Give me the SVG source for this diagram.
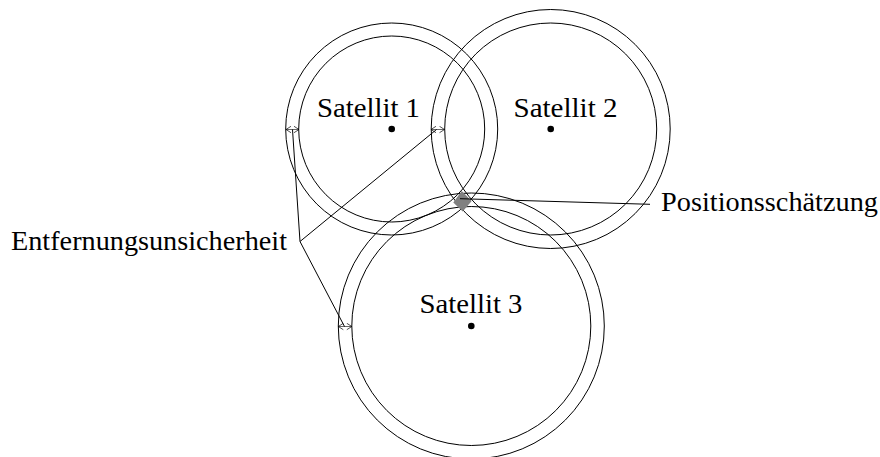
<svg xmlns="http://www.w3.org/2000/svg" width="880" height="457" viewBox="0 0 880 457">
  <style>
    .ring { fill: none; stroke: #000; stroke-width: 1; }
    .lead { fill: none; stroke: #000; stroke-width: 1; }
    .gap { fill: none; stroke: #000; stroke-width: 0.6; marker-start: url(#tip); marker-end: url(#tip); }
    .dot { fill: #000; }
    .lbl { font-family: "Liberation Serif", "DejaVu Serif", serif; font-size: 27px; fill: #000; }
  </style>
  <defs>
    <marker id="tip" viewBox="0 0 8 8" refX="7.5" refY="4" markerWidth="8" markerHeight="8" markerUnits="userSpaceOnUse" orient="auto-start-reverse">
      <path d="M2.5,0.8 L7.5,4 L2.5,7.2" fill="none" stroke="#000" stroke-width="0.7"/>
    </marker>
  </defs>

  <rect width="880" height="457" fill="#fff"/>

  <!-- satellites: inner/outer range circles, centre point and name -->
  <g id="satellit1">
    <circle class="ring" cx="391.7" cy="129" r="93"/>
    <circle class="ring" cx="391.7" cy="129" r="106"/>
    <circle class="dot" cx="391.7" cy="129" r="3.3"/>
    <text class="lbl" x="317" y="116.5" textLength="103" lengthAdjust="spacingAndGlyphs">Satellit 1</text>
  </g>
  <g id="satellit2">
    <circle class="ring" cx="550.7" cy="129" r="106"/>
    <circle class="ring" cx="550.7" cy="129" r="119.5"/>
    <circle class="dot" cx="550.7" cy="129" r="3.3"/>
    <text class="lbl" x="513.5" y="116.5" textLength="104" lengthAdjust="spacingAndGlyphs">Satellit 2</text>
  </g>
  <g id="satellit3">
    <circle class="ring" cx="471.3" cy="326" r="119.5"/>
    <circle class="ring" cx="471.3" cy="326" r="133"/>
    <circle class="dot" cx="471.3" cy="326" r="3.3"/>
    <text class="lbl" x="419.5" y="313" textLength="103" lengthAdjust="spacingAndGlyphs">Satellit 3</text>
  </g>

  <!-- position estimate where all three rings overlap -->
  <g id="positionsschaetzung">
    <polygon points="461.7,191 471.7,201 462.7,211.5 453.3,202.5" fill="#808080"/>
    <text class="lbl" x="661" y="210.5" textLength="217" lengthAdjust="spacingAndGlyphs">Positionsschätzung</text>
  </g>

  <g id="entfernungsunsicherheit">
    <text class="lbl" x="11" y="250" textLength="276" lengthAdjust="spacingAndGlyphs">Entfernungsunsicherheit</text>
  </g>

  <!-- range uncertainty arrows and leader lines -->
  <g id="connectors">
    <line class="gap" x1="286" y1="129.5" x2="299" y2="129.5"/>
    <line class="gap" x1="431" y1="129.5" x2="444.5" y2="129.5"/>
    <line class="gap" x1="338.3" y1="326.5" x2="351.8" y2="326.5"/>
    <polyline class="lead" points="292.5,129.5 300,241.5 436.5,129.5"/>
    <line class="lead" x1="300" y1="241.5" x2="344.5" y2="326.5"/>
    <line class="lead" x1="460" y1="198.7" x2="650" y2="204.3"/>
  </g>
</svg>
